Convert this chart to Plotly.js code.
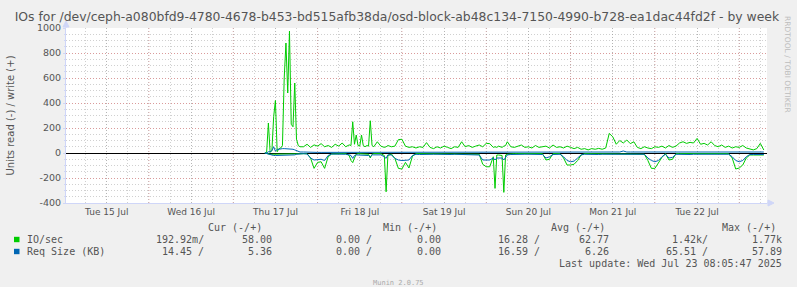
<!DOCTYPE html>
<html><head><meta charset="utf-8">
<script src="https://cdn.plot.ly/plotly-3.0.1.min.js"></script>
<style>html,body{margin:0;padding:0;background:#F0F0F0;}#chart{width:797px;height:287px;}</style>
</head><body><div id="chart"></div>
<script>
// ---- data: hours since 2025-07-17 00:00 ----
const hours = [
 9, 9.5, 10, 10.5, 11, 11.5, 12, 12.5, 13, 13.5, 14, 14.5, 15, 15.5, 16, 16.5, 17, 17.5, 18, 18.5, 19,
 20, 21, 22, 23, 24, 25, 26, 27, 28, 29, 30, 31, 32, 33,
 33.5, 34, 34.5, 35, 35.5, 36, 36.5, 37, 37.5, 38, 38.5, 39, 39.5, 40,
 41, 42, 43,
 43.5, 44,
 45, 46, 47, 48, 49, 50, 51, 52, 53, 54, 55, 56, 57, 58, 59, 60, 61, 62, 63, 64, 65, 66, 67, 68, 69, 70, 71, 72, 73, 74,
 74.5, 75, 75.5, 76, 76.5, 77, 77.5, 78,
 79, 80, 81, 82, 83, 84, 85, 86, 87, 88,
 89, 90, 91, 92, 93, 94, 95, 96, 97, 98,
 99, 100, 101, 102, 103, 104, 105, 106, 107, 108,
 109, 110, 111, 112, 113, 114, 115, 116, 117, 118,
 119, 120, 121, 122, 123, 124, 125, 126, 127, 128,
 129, 130, 131, 132, 133, 134, 135, 136, 137, 138,
 139, 140, 141, 142, 143, 144, 145, 146, 147, 148,
 149, 150, 151
];
// IO/sec write (+)
const ioWrite = [
 0, 5, 240, 5, 20, 290, 420, 10, 35, 40, 60, 600, 880, 480, 975, 230, 210, 560, 110, 60, 50,
 50, 70, 45, 65, 55, 75, 50, 60, 45, 70, 55, 80, 50, 65,
 60, 250, 70, 144, 60, 55, 144, 60, 50, 60, 55, 258, 60, 50,
 90, 55, 45,
 50, 60,
 50, 55, 107, 110, 55, 45, 50, 40, 50, 45, 83, 45, 35, 50, 40, 55, 45, 35, 50, 45, 90, 50, 60, 45, 55, 64, 50, 77, 75, 45,
 50, 45, 55, 50, 45, 55, 60, 90,
 50, 45, 55, 64, 45, 50, 40, 60, 45, 50,
 55, 40, 64, 45, 50, 40, 55, 45, 35, 45,
 30, 35, 25, 35, 30, 37, 30, 40, 157, 130,
 70, 100, 80, 104, 75, 90, 45, 35, 50, 40,
 35, 50, 45, 55, 40, 60, 45, 55, 80, 90,
 77, 85, 80, 117, 70, 77, 64, 90, 60, 50,
 64, 45, 55, 40, 50, 45, 60, 40, 30, 25,
 35, 77, 24
];
// IO/sec read (-)
const ioRead = [
 0, -5, -10, -10, -10, -10, -10, -10, -10, -10, -10, -10, -10, -10, -10, -10, -10, -10, -8, -5, -5,
 -5, -5, -40, -123, -75, -70, -123, -30, -8, -5, -5, -5, -5, -20,
 -60, -77, -40, -10, -5, -5, -5, -5, -5, -5, -10, -40, -10, -5,
 -5, -5, -20,
 -310, -20,
 -8, -43, -123, -128, -75, -120, -25, -5, -5, -5, -5, -5, -5, -5, -5, -5, -5, -5, -5, -5, -5, -5, -5, -5, -5, -10, -90, -110, -110, -30,
 -283, -16, -16, -16, -20, -315, -16, -10,
 -5, -5, -5, -5, -5, -5, -5, -5, -5, -5,
 -56, -50, -5, -5, -5, -40, -96, -96, -90, -60,
 -16, -5, -5, -5, -5, -5, -5, -5, -5, -5,
 -5, -5, -5, -5, -5, -5, -5, -5, -10, -60,
 -123, -123, -80, -35, -5, -56, -50, -5, -5, -5,
 -5, -5, -5, -5, -5, -5, -5, -5, -5, -5,
 -5, -5, -5, -40, -128, -120, -96, -40, -16, -16,
 -16, -16, -16
];
// Req Size (KB) write (+)
const reqWrite = [
 0, 0, 10, 10, 20, 50, 15, 30, 30, 35, 35, 35, 35, 30, 30, 30, 30, 25, 20, 10, 8,
 8, 6, 5, 5, 5, 5, 5, 6, 8, 8, 8, 8, 8, 8,
 8, 10, 8, 6, 8, 8, 6, 8, 8, 8, 6, 10, 8, 8,
 8, 8, 8,
 8, 8,
 8, 8, 5, 5, 5, 5, 8, 8, 8, 8, 8, 8, 8, 8, 8, 8, 8, 8, 8, 8, 8, 8, 8, 8, 8, 8, 5, 5, 5, 8,
 8, 8, 8, 8, 8, 8, 8, 8,
 8, 8, 8, 8, 8, 8, 8, 8, 8, 8,
 8, 8, 8, 8, 8, 8, 5, 5, 5, 8,
 8, 8, 8, 8, 8, 8, 8, 8, 8, 8,
 8, 8, 16, 8, 8, 8, 8, 8, 8, 8,
 5, 5, 5, 8, 8, 8, 8, 8, 8, 8,
 8, 8, 8, 8, 8, 8, 8, 8, 8, 8,
 8, 8, 8, 8, 5, 5, 5, 8, 8, 8,
 8, 8, 8
];
// Req Size (KB) read (-)
const reqRead = [
 0, -5, -10, -10, -15, -20, -20, -20, -20, -20, -20, -20, -20, -20, -18, -18, -16, -15, -10, -8, -5,
 -5, -8, -40, -56, -56, -50, -60, -20, -8, -8, -8, -10, -10, -15,
 -20, -43, -20, -15, -15, -15, -15, -15, -15, -15, -20, -30, -15, -15,
 -15, -15, -30,
 -43, -15,
 -15, -43, -56, -60, -56, -56, -20, -10, -12, -10, -10, -12, -10, -10, -12, -10, -10, -12, -10, -10, -12, -10, -10, -12, -10, -16, -56, -56, -56, -40,
 -56, -40, -40, -40, -40, -56, -30, -15,
 -12, -10, -10, -12, -10, -10, -12, -10, -10, -12,
 -40, -30, -12, -10, -10, -30, -60, -70, -65, -40,
 -15, -10, -12, -10, -10, -12, -10, -10, -12, -10,
 -10, -12, -10, -10, -12, -10, -10, -12, -10, -40,
 -60, -70, -60, -30, -10, -40, -35, -10, -12, -10,
 -10, -12, -10, -10, -12, -10, -10, -12, -10, -10,
 -12, -10, -10, -30, -60, -70, -60, -30, -12, -12,
 -12, -12, -12
];
const dayDates = ['2025-07-15','2025-07-16','2025-07-17','2025-07-18','2025-07-19','2025-07-20','2025-07-21','2025-07-22'];
const dayLabels = ['Tue 15 Jul','Wed 16 Jul','Thu 17 Jul','Fri 18 Jul','Sat 19 Jul','Sun 20 Jul','Mon 21 Jul','Tue 22 Jul'];
const midnights = ['2025-07-16','2025-07-17','2025-07-18','2025-07-19','2025-07-20','2025-07-21','2025-07-22','2025-07-23'];
const yTickVals = [-400,-200,0,200,400,600,800,1000];
const yTickText = ['-400','-200','0','200','400','600','800','1000'];
const legendRows = [
 {name:'IO/sec', color:'#00CC00', cur:['192.92m/','58.00'], min:['0.00 /','0.00'], avg:['16.28 /','62.77'], max:['1.42k/','1.77k']},
 {name:'Req Size (KB)', color:'#0066B3', cur:['14.45 /','5.36'], min:['0.00 /','0.00'], avg:['16.59 /','6.26'], max:['65.51 /','57.89']}
];

// ---- layout helpers ----
const L=66, R=767, T=28, B=203;
const px = x => (x-L)/(R-L);
const py = y => (B-y)/(B-T);
const base = Date.UTC(2025,6,17);
const xs = hours.map(h => base + h*3600e3);

const mk = (y, color) => ({x: xs, y: y, type:'scatter', mode:'lines', line:{color:color, width:1}, hoverinfo:'skip', showlegend:false});
const traces = [mk(ioRead,'#00CC00'), mk(ioWrite,'#00CC00'), mk(reqRead,'#0066B3'), mk(reqWrite,'#0066B3')];

const minorX = [];
for (let t = Date.UTC(2025,6,15); t <= Date.UTC(2025,6,23,6); t += 6*3600e3) minorX.push(t);

const textC = '#555555';
const mono = 'DejaVu Sans Mono';
const anns = [];
function ann(text, x, y, anchor, size, color, family, extra) {
  anns.push(Object.assign({text:text, xref:'paper', yref:'paper', x:px(x), y:py(y), xanchor:anchor, yanchor:'middle',
    showarrow:false, borderpad:0, font:{family:family||mono, size:size||10, color:color||textC}}, extra||{}));
}
// header
ann('Cur (-/+)', 263, 227, 'right');
ann('Min (-/+)', 438, 227, 'right');
ann('Avg (-/+)', 606, 227, 'right');
ann('Max (-/+)', 777, 227, 'right');
const shapes = [];
legendRows.forEach((r,i) => {
  const y = 239.5 + i*12;
  shapes.push({type:'rect', xref:'paper', yref:'paper', x0:px(14), x1:px(19.5), y0:py(y-2.7), y1:py(y+2.7), fillcolor:r.color, line:{width:0}});
  ann(r.name, 26, y, 'left');
  ann(r.cur[0], 205, y, 'right'); ann(r.cur[1], 273, y, 'right');
  ann(r.min[0], 373, y, 'right'); ann(r.min[1], 442, y, 'right');
  ann(r.avg[0], 541, y, 'right'); ann(r.avg[1], 610, y, 'right');
  ann(r.max[0], 709, y, 'right'); ann(r.max[1], 783, y, 'right');
});
ann('Last update: Wed Jul 23 08:05:47 2025', 783, 263.5, 'right');
ann('Munin 2.0.75', 398.5, 283, 'center', 7, '#AAAAAA');
ann('RRDTOOL / TOBI OETIKER', 788, 64, 'center', 7.5, '#BDBDBD', 'DejaVu Sans', {textangle:90});

midnights.forEach(d => shapes.push({type:'line', xref:'x', yref:'paper', x0:d, x1:d, y0:0, y1:1, layer:'below',
  line:{color:'rgba(225,110,110,0.55)', width:1, dash:'1px,2px'}}));
// axis arrows
const axisC = '#CFD6F8';
shapes.push({type:'line', xref:'paper', yref:'paper', x0:px(66), x1:px(66), y0:1, y1:py(22), line:{color:axisC, width:1}});
shapes.push({type:'path', xref:'paper', yref:'paper', path:`M ${px(63)} ${py(27)} L ${px(69)} ${py(27)} L ${px(66)} ${py(21)} Z`, fillcolor:axisC, line:{color:axisC, width:1}});
shapes.push({type:'line', xref:'paper', yref:'paper', x0:1, x1:px(772), y0:0, y1:0, line:{color:axisC, width:1}});
shapes.push({type:'path', xref:'paper', yref:'paper', path:`M ${px(768)} ${py(200)} L ${px(768)} ${py(206)} L ${px(774)} ${py(203)} Z`, fillcolor:axisC, line:{color:axisC, width:1}});

const layout = {
  width:797, height:287,
  paper_bgcolor:'#F0F0F0', plot_bgcolor:'#FFFFFF',
  margin:{l:L, r:797-R, t:T, b:287-B, pad:0},
  font:{family:'DejaVu Sans', color:textC},
  title:{text:'IOs for /dev/ceph-a080bfd9-4780-4678-b453-bd515afb38da/osd-block-ab48c134-7150-4990-b728-ea1dac44fd2f - by week',
    font:{family:'DejaVu Sans', size:12.4, color:textC}, x:0.498, xref:'container', y:1-16.5/287, yref:'container', yanchor:'middle'},
  xaxis:{type:'date', range:['2025-07-15 00:24','2025-07-23 07:54'], fixedrange:true,
    tickmode:'array', tickvals:dayDates.map(d=>d+' 12:00'), ticktext:dayLabels,
    tickfont:{family:'DejaVu Sans', size:9, color:textC}, ticks:'', showgrid:true,
    gridcolor:'rgba(150,150,150,0.45)', griddash:'1px,2px', gridwidth:1,
    minor:{tickmode:'array', tickvals:minorX, showgrid:true, gridcolor:'rgba(150,150,150,0.45)', griddash:'1px,2px', ticks:''},
    showline:true, linecolor:axisC, linewidth:1, zeroline:false},
  yaxis:{range:[-400,1000], fixedrange:true, tickmode:'array', tickvals:yTickVals, ticktext:yTickText,
    tickfont:{family:'DejaVu Sans', size:9.5, color:textC}, ticks:'outside', ticklen:2, tickcolor:axisC,
    showgrid:true, gridcolor:'rgba(225,110,110,0.55)', griddash:'1px,2px', gridwidth:1,
    minor:{dtick:50, tick0:0, showgrid:true, gridcolor:'rgba(150,150,150,0.45)', griddash:'1px,2px', ticks:'outside', ticklen:1, tickcolor:axisC},
    zeroline:true, zerolinecolor:'#000000', zerolinewidth:1,
    showline:true, linecolor:axisC, linewidth:1,
    title:{text:'Units read (-) / write (+)', font:{family:'DejaVu Sans', size:10, color:textC}, standoff:20}},
  shapes:shapes, annotations:anns, showlegend:false
};
Plotly.newPlot('chart', traces, layout, {staticPlot:true, displayModeBar:false});
</script></body></html>
